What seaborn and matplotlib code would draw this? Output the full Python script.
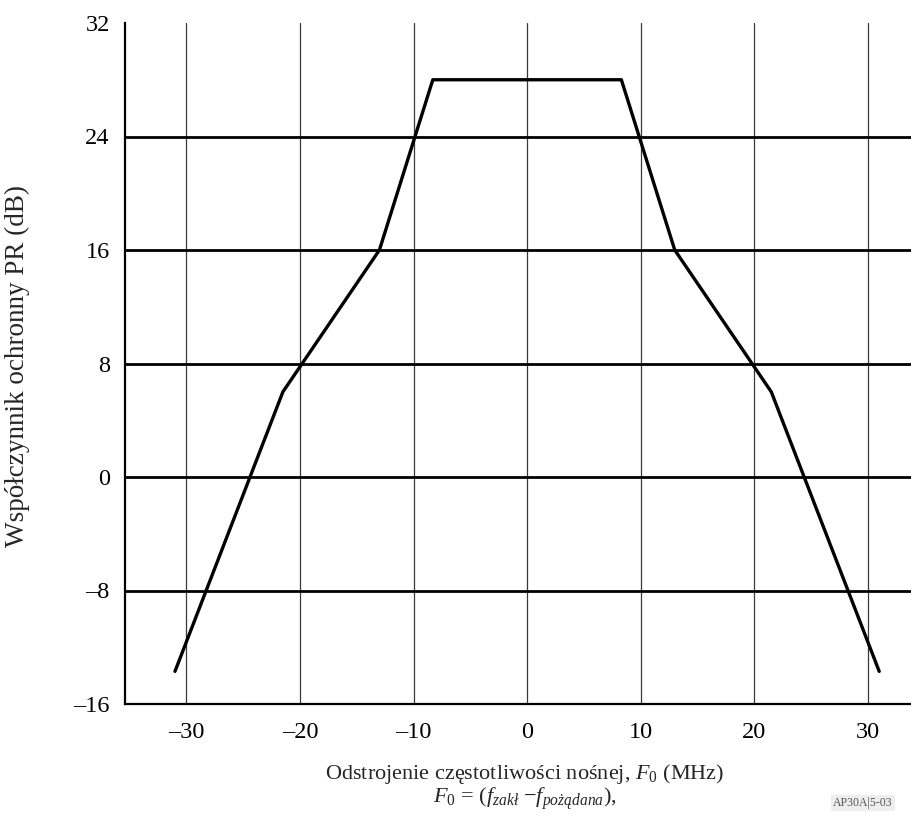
import matplotlib
matplotlib.use("Agg")
import matplotlib.pyplot as plt
import seaborn as sns
import pandas as pd

# Data
offset_mhz = [-31.0, -21.5, -13.0, -8.3, 8.3, 13.0, 21.5, 31.0]
pr_db = [-13.7, 6.0, 16.0, 28.0, 28.0, 16.0, 6.0, -13.7]
x_ticks = [-30, -20, -10, 0, 10, 20, 30]
y_ticks = [-16, -8, 0, 8, 16, 24, 32]
y_gridlines = [-8, 0, 8, 16, 24]

sns.set_theme(style="white")
plt.rcParams['font.family'] = ['Liberation Serif', 'DejaVu Serif']
plt.rcParams['mathtext.fontset'] = 'custom'
plt.rcParams['mathtext.rm'] = 'Liberation Serif'
plt.rcParams['mathtext.it'] = 'Liberation Serif:italic'

fig = plt.figure(figsize=(9.11, 8.15), dpi=100)
ax = fig.add_axes([125/911, 1 - 704/815, 1 - 125/911, (704 - 23)/815])

df = pd.DataFrame({"x": offset_mhz, "y": pr_db})

for xv in x_ticks:
    ax.axvline(xv, color="#3a3a3a", lw=0.9, zorder=1)
for yv in y_gridlines:
    ax.axhline(yv, color="black", lw=2.0, zorder=1)

sns.lineplot(data=df, x="x", y="y", ax=ax, color="black", lw=2.4,
             sort=False, zorder=3, estimator=None)

ax.set_xlim(-35.4, 33.8)
ax.set_ylim(-16, 32)
ax.set_xticks(x_ticks)
ax.set_yticks(y_ticks)
ax.set_xticklabels([f"\u2013{abs(v)}" if v < 0 else str(v) for v in x_ticks], fontsize=17.5)
ax.set_yticklabels([f"\u2013{abs(v)}" if v < 0 else str(v) for v in y_ticks], fontsize=17.5)
ax.tick_params(axis="both", length=0, colors="black")
ax.tick_params(axis="y", pad=11)
ax.tick_params(axis="x", pad=13)

for side in ["top", "right"]:
    ax.spines[side].set_visible(False)
for side in ["left", "bottom"]:
    ax.spines[side].set_color("black")
    ax.spines[side].set_linewidth(1.6)

ax.set_xlabel("")
ax.set_ylabel("")
fig.text(17/911, 1 - 366/815, "Współczynnik ochronny PR (dB)", rotation=90,
         ha="center", va="center", fontsize=19.5)

fig.text(525/911, 1 - 787/815,
         "Odstrojenie częstotliwości nośnej, $F_{0}$ (MHz)\n"
         r"$F_{0}$ = ($f_{zakł}$ $-$$f_{pożądana}$),",
         ha="center", va="center", multialignment="center",
         fontsize=16, linespacing=0.95)
fig.text(833/911, 1 - 803/815, "AP30A|5-03", ha="left", va="center", fontsize=8.5,
         color="#555555",
         bbox=dict(facecolor="#eeeeee", edgecolor="none", pad=1.5))

fig.savefig("out.png", dpi=100)
